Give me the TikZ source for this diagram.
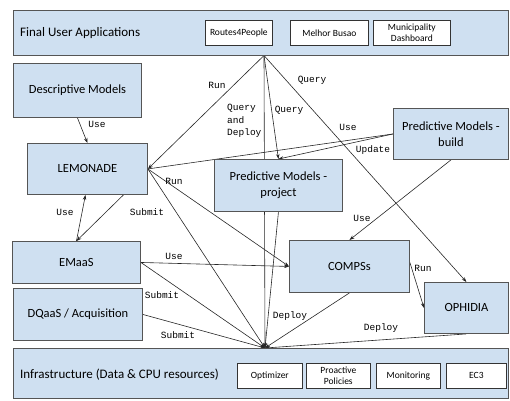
\documentclass[tikz,border=0pt]{standalone}
\usepackage{fontspec}
\setmainfont{Carlito}
\newfontfamily\monof{Liberation Mono}
\usetikzlibrary{arrows.meta,calc}
\pgfdeclarelayer{bg}
\pgfsetlayers{bg,main}
\definecolor{boxblue}{HTML}{CFE0F1}
\definecolor{edgegray}{HTML}{555555}
\begin{document}
\begin{tikzpicture}[x=1pt,y=-1pt,
 bx/.style={draw=edgegray, fill=boxblue, line width=0.9pt, anchor=north west, inner sep=0pt, align=center, font=\fontsize{12.5}{15.5}\selectfont},
 sub/.style={draw=black!80, fill=white, line width=0.7pt, anchor=north west, inner sep=0pt, align=center, font=\fontsize{9.5}{11}\selectfont},
 bandlab/.style={anchor=west, inner sep=0pt, font=\fontsize{13}{15}\selectfont},
 lab/.style={font=\monof\fontsize{9.5}{12.5}\selectfont, inner sep=0pt},
 conn/.style={draw=black!85, line width=0.6pt},
 arr/.style={conn, -{Stealth[length=5pt,width=3.5pt]}}]
\useasboundingbox (0,0) rectangle (510,400);

% bands
\node[bx, minimum width=495pt, minimum height=45pt] (top) at (13,10) {};
\node[bandlab] (toplab) at (20,33) {Final User Applications};
\node[sub, minimum width=67pt, minimum height=25pt] (r4p) at (205,20) {Routes4People};
\node[sub, minimum width=78pt, minimum height=25pt] (mb) at (290,20) {Melhor Busao};
\node[sub, minimum width=77pt, minimum height=25pt] (md) at (373,20) {Municipality\\Dashboard};

\node[bx, minimum width=495pt, minimum height=50pt] (infra) at (13,348) {};
\node[bandlab] (infralab) at (20,375) {Infrastructure (Data \& CPU resources)};
\node[sub, minimum width=65pt, minimum height=25pt] (opt) at (237,363) {Optimizer};
\node[sub, minimum width=64pt, minimum height=25pt] (pp) at (306,363) {Proactive\\Policies};
\node[sub, minimum width=64pt, minimum height=25pt] (mon) at (376,363) {Monitoring};
\node[sub, minimum width=60pt, minimum height=25pt] (ec3) at (446,363) {EC3};

% boxes
\node[bx, minimum width=128pt, minimum height=54pt] (desc) at (13,63) {Descriptive Models};
\node[bx, minimum width=120pt, minimum height=51pt] (lemon) at (27,143) {LEMONADE};
\node[bx, minimum width=115pt, minimum height=51pt] (build) at (393,108) {Predictive Models -\\build};
\node[bx, minimum width=128pt, minimum height=52pt] (proj) at (214,159) {Predictive Models -\\project};
\node[bx, minimum width=128pt, minimum height=42pt] (emaas) at (12,241) {EMaaS};
\node[bx, minimum width=120pt, minimum height=52pt] (compss) at (289,240) {COMPSs};
\node[bx, minimum width=129pt, minimum height=52pt] (dqaas) at (13,288) {DQaaS / Acquisition};
\node[bx, minimum width=84pt, minimum height=51pt] (oph) at (424,282) {OPHIDIA};

\coordinate (A) at (264,55.5);
\coordinate (B) at (265,348);

\begin{pgfonlayer}{bg}
\draw[arr] (A) -- (lemon.east);
\draw[arr] (A) -- (B);
\draw[arr] (A) -- (proj.north);
\draw[arr] (A) -- (oph.north);
\draw[conn] (lemon.east) -- (build.west);
\draw[arr] (build.west) -- (proj.north);
\draw[arr] (lemon.east) -- (compss.west);
\draw[arr] (lemon.east) -- (B);
\draw[arr] (desc.south) -- (lemon.north);
\draw[arr] (emaas.north) -- ($(lemon.south)+(-2,0)$);
\draw[arr] ($(lemon.south)+(36,0)$) -- (emaas.north);
\draw[arr] (emaas.east) -- (compss.west);
\draw[arr] (emaas.east) -- (B);
\draw[arr] (dqaas.east) -- (B);
\draw[arr] (compss.south) -- (B);
\draw[arr] (oph.south) -- (B);
\draw[arr] (proj.south) -- (B);
\draw[arr] (build.south) -- (compss.north);
\draw[arr] ($(compss.east)+(0,-4)$) -- (oph.west);
\end{pgfonlayer}

% labels
\node[lab] (l1) at (217,85) {Run};
\node[lab, anchor=north west, align=left] (l2) at (227,104) {Query\\and\\Deploy};
\node[lab] (l3) at (289,110) {Query};
\node[lab] (l4) at (312,80) {Query};
\node[lab] (l5) at (348,127) {Use};
\node[lab] (l6) at (373,150) {Update};
\node[lab] (l7) at (97,124) {Use};
\node[lab] (l8) at (174,181) {Run};
\node[lab] (l9) at (65,212) {Use};
\node[lab] (l10) at (147,212) {Submit};
\node[lab] (l11) at (174,256) {Use};
\node[lab] (l12) at (162,295) {Submit};
\node[lab] (l13) at (178,335) {Submit};
\node[lab] (l14) at (290,316) {Deploy};
\node[lab] (l15) at (381,328) {Deploy};
\node[lab] (l16) at (362,218) {Use};
\node[lab] (l17) at (423,268) {Run};
\end{tikzpicture}
\end{document}
